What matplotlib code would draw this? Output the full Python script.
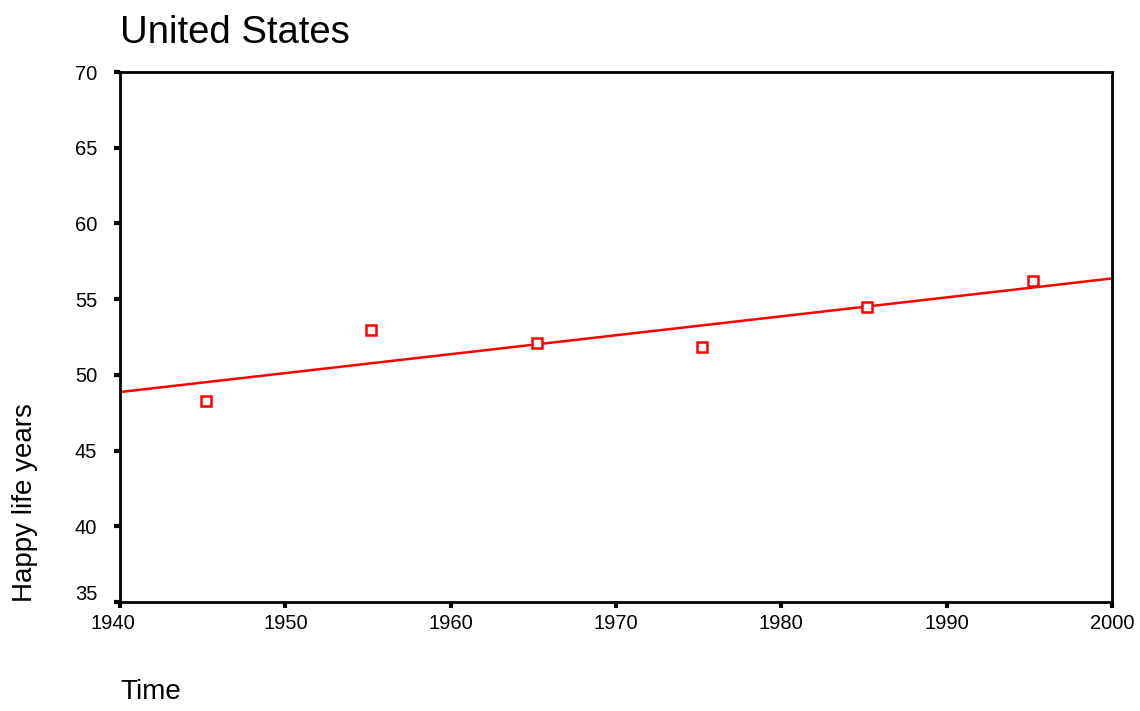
import matplotlib
matplotlib.use("Agg")
import matplotlib.pyplot as plt
import matplotlib.transforms as mtransforms
import numpy as np

plt.rcParams['font.family'] = ['Liberation Sans', 'DejaVu Sans']

# Happy life years, United States
years = [1945.2, 1955.2, 1965.2, 1975.2, 1985.2, 1995.2]
happy = [48.3, 52.95, 52.1, 51.85, 54.45, 56.2]

fig = plt.figure(figsize=(11.4, 7.11), dpi=100)
ax = fig.add_axes([0.1053, 0.1533, 0.8701, 0.7454])

# linear fit line across the full x range
slope, icept = np.polyfit(years, happy, 1)
xfit = np.array([1940, 2000])
ax.plot(xfit, slope * xfit + icept, color='#ff0000', lw=1.8)

ax.plot(years, happy, linestyle='none', marker='s', markersize=7,
        markerfacecolor='white', markeredgecolor='#ff0000', markeredgewidth=1.8)

ax.set_xlim(1940, 2000)
ax.set_ylim(35, 70)
ax.set_xticks(range(1940, 2001, 10))
ax.set_yticks(range(35, 71, 5))
ax.tick_params(direction='out', length=4.5, width=3, labelsize=14.5)
ax.tick_params(axis='x', pad=4)
ax.tick_params(axis='y', pad=12)
for s in ax.spines.values():
    s.set_linewidth(2)

# nudge the corner labels apart like the original
fig.canvas.draw()
ylab0 = ax.get_yticklabels()[0]
ylab0.set_transform(ylab0.get_transform() + mtransforms.ScaledTranslation(0, 7 / 72, fig.dpi_scale_trans))
xlab0 = ax.get_xticklabels()[0]
xlab0.set_transform(xlab0.get_transform() + mtransforms.ScaledTranslation(-5 / 72, 0, fig.dpi_scale_trans))

ax.set_title('United States', loc='left', fontsize=27.5, pad=21)
ax.set_xlabel('Time', loc='left', fontsize=20)
ax.xaxis.set_label_coords(0, -0.1455)
ax.set_ylabel('Happy life years', loc='bottom', fontsize=20)
ax.yaxis.set_label_coords(-0.083, 0)

fig.savefig('out.png', dpi=100)
